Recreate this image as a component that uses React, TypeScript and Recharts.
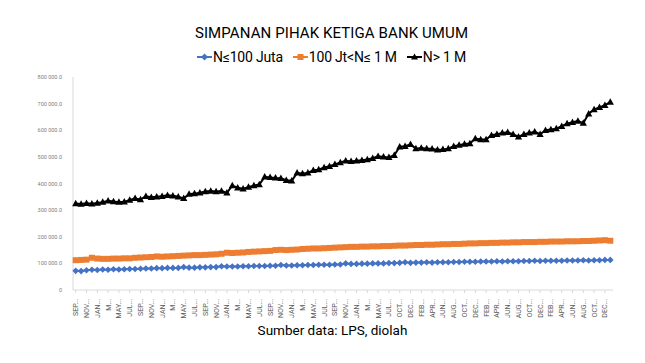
import { Line, LineChart, XAxis, YAxis } from "recharts";

// monthly categories (one month missing in the source, SEP-16)
const MONTHS = [
  "SEP-11", "OCT-11", "NOV-11", "DEC-11",
  "JAN-12", "FEB-12", "MAR-12", "APR-12", "MAY-12", "JUN-12", "JUL-12", "AUG-12", "SEP-12", "OCT-12", "NOV-12", "DEC-12",
  "JAN-13", "FEB-13", "MAR-13", "APR-13", "MAY-13", "JUN-13", "JUL-13", "AUG-13", "SEP-13", "OCT-13", "NOV-13", "DEC-13",
  "JAN-14", "FEB-14", "MAR-14", "APR-14", "MAY-14", "JUN-14", "JUL-14", "AUG-14", "SEP-14", "OCT-14", "NOV-14", "DEC-14",
  "JAN-15", "FEB-15", "MAR-15", "APR-15", "MAY-15", "JUN-15", "JUL-15", "AUG-15", "SEP-15", "OCT-15", "NOV-15", "DEC-15",
  "JAN-16", "FEB-16", "MAR-16", "APR-16", "MAY-16", "JUN-16", "JUL-16", "AUG-16", "OCT-16", "NOV-16", "DEC-16",
  "JAN-17", "FEB-17", "MAR-17", "APR-17", "MAY-17", "JUN-17", "JUL-17", "AUG-17", "SEP-17", "OCT-17", "NOV-17", "DEC-17",
  "JAN-18", "FEB-18", "MAR-18", "APR-18", "MAY-18", "JUN-18", "JUL-18", "AUG-18", "SEP-18", "OCT-18", "NOV-18", "DEC-18",
  "JAN-19", "FEB-19", "MAR-19", "APR-19", "MAY-19", "JUN-19", "JUL-19", "AUG-19", "SEP-19", "OCT-19", "NOV-19", "DEC-19",
  "JAN-20",
];

// values in thousands (axis shows "x 000.0")
const SMALL = [
  72, 71, 74, 76, 75, 77, 76, 78, 77, 78,
  79, 79, 80, 81, 81, 82, 82, 83, 83, 83,
  86, 84, 84, 85, 85, 86, 86, 89, 88, 88,
  88, 89, 89, 90, 90, 90, 91, 91, 94, 92,
  92, 93, 93, 94, 94, 95, 95, 95, 96, 96,
  100, 98, 98, 99, 99, 100, 100, 100, 101, 101,
  102, 104, 102, 103, 103, 104, 103, 104, 104, 104,
  105, 105, 106, 106, 106, 107, 107, 107, 108, 107,
  108, 108, 108, 109, 109, 110, 109, 110, 110, 110,
  110, 111, 111, 111, 112, 111, 112, 112, 113, 113,
];

const MID = [
  112, 113, 114, 121, 118, 117, 117, 118, 118, 119,
  119, 121, 122, 123, 124, 126, 125, 126, 127, 128,
  129, 130, 131, 131, 132, 133, 134, 136, 140, 139,
  140, 141, 143, 144, 145, 146, 147, 150, 151, 150,
  151, 152, 154, 155, 156, 156, 157, 158, 159, 160,
  161, 162, 162, 163, 163, 164, 164, 165, 165, 166,
  167, 167, 168, 169, 169, 170, 170, 171, 172, 172,
  173, 173, 174, 175, 175, 176, 176, 177, 177, 178,
  178, 179, 179, 180, 180, 180, 181, 181, 182, 182,
  182, 183, 183, 183, 184, 184, 185, 186, 187, 185,
];

const LARGE = [
  325, 323, 326, 324, 327, 330, 335, 332, 330, 331,
  338, 344, 340, 352, 348, 350, 352, 356, 354, 350,
  344, 360, 362, 365, 370, 372, 370, 372, 365, 392,
  384, 380, 387, 392, 396, 425, 423, 421, 420, 412,
  410, 440, 437, 440, 450, 452, 460, 465, 472, 479,
  485, 483, 485, 487, 490, 495, 502, 500, 498, 506,
  538, 540, 547, 531, 533, 531, 530, 527, 528, 531,
  540, 544, 548, 550, 569, 565, 565, 581, 585, 590,
  592, 585, 575, 585, 590, 594, 585, 600, 603, 606,
  615, 625, 630, 635, 627, 662, 678, 686, 694, 706,
];

const Y_TICKS = [0, 100, 200, 300, 400, 500, 600, 700, 800];

const SERIES = [
  { key: "small", name: "N≤100 Juta", color: "#4472C4" },
  { key: "mid", name: "100 Jt<N≤ 1 M", color: "#ED7D31" },
  { key: "large", name: "N> 1 M", color: "#000000" },
];

const data = MONTHS.map((m, i) => ({
  month: m,
  small: SMALL[i],
  mid: MID[i],
  large: LARGE[i],
}));

const FONT = "Roboto, 'Noto Sans', sans-serif";

function shortLabel(m: string) {
  const mon = m.slice(0, 3);
  return mon === "MAR" ? "M..." : mon + "...";
}

function MonthTick({ x, y, payload }: any) {
  return (
    <g transform={`translate(${x},${y})`}>
      <text
        transform="rotate(-90)"
        x={-4}
        y={0}
        dy={2.5}
        textAnchor="end"
        fontSize={7}
        fill="#595959"
        fontFamily={FONT}
      >
        {shortLabel(payload.value)}
      </text>
    </g>
  );
}

function ValueTick({ x, y, payload }: any) {
  const v = payload.value;
  return (
    <text x={x - 3} y={y} dy={2} textAnchor="end" fontSize={5.5} fill="#808080" fontFamily={FONT}>
      {v === 0 ? "0" : `${v}\u00a0000.0`}
    </text>
  );
}

function Diamond(props: any) {
  const { cx, cy, index } = props;
  if (cx == null || cy == null) return <g key={`s-${index}`} />;
  const r = 3.3;
  return (
    <path
      key={`s-${index}`}
      d={`M${cx},${cy - r}L${cx + r},${cy}L${cx},${cy + r}L${cx - r},${cy}Z`}
      fill="#4472C4"
    />
  );
}

function Square(props: any) {
  const { cx, cy, index } = props;
  if (cx == null || cy == null) return <g key={`m-${index}`} />;
  return <rect key={`m-${index}`} x={cx - 3} y={cy - 3} width={6} height={6} fill="#ED7D31" />;
}

function Triangle(props: any) {
  const { cx, cy, index } = props;
  if (cx == null || cy == null) return <g key={`l-${index}`} />;
  return (
    <path
      key={`l-${index}`}
      d={`M${cx},${cy - 3.8}L${cx + 3.6},${cy + 2.7}L${cx - 3.6},${cy + 2.7}Z`}
      fill="#000"
    />
  );
}

function LegendMarker({ k, color }: { k: string; color: string }) {
  return (
    <svg width={15} height={10} style={{ marginRight: 1 }}>
      <line x1={0} y1={5} x2={15} y2={5} stroke={color} strokeWidth={2} />
      {k === "small" && <path d="M7.5,1.5L11,5L7.5,8.5L4,5Z" fill={color} />}
      {k === "mid" && <rect x={4.5} y={2} width={6} height={6} fill={color} />}
      {k === "large" && <path d="M7.5,1.5L11,7.5L4,7.5Z" fill={color} />}
    </svg>
  );
}

export default function App() {
  return (
    <div
      style={{
        position: "absolute",
        left: 0,
        top: 0,
        width: 645,
        height: 363,
        background: "#fff",
        fontFamily: FONT,
      }}
    >
      <div
        style={{
          position: "absolute",
          top: 24,
          width: 645,
          textAlign: "center",
          fontSize: 15,
          color: "#000",
          letterSpacing: 0.1,
          paddingLeft: 18,
          boxSizing: "border-box",
        }}
      >
        SIMPANAN PIHAK KETIGA BANK UMUM
      </div>
      <div
        style={{
          position: "absolute",
          top: 49,
          width: 645,
          paddingLeft: 18,
          boxSizing: "border-box",
          display: "flex",
          justifyContent: "center",
          alignItems: "center",
          gap: 10,
          fontSize: 14,
          color: "#000",
          letterSpacing: -0.2,
        }}
      >
        {SERIES.map((s) => (
          <div key={s.key} style={{ display: "flex", alignItems: "center" }}>
            <LegendMarker k={s.key} color={s.color} />
            <span>{s.name}</span>
          </div>
        ))}
      </div>
      <LineChart
        width={645}
        height={363}
        data={data}
        margin={{ top: 77, right: 32, left: 33, bottom: 43 }}
      >
        <XAxis
          dataKey="month"
          interval={1}
          height={30}
          padding={{ left: 2.7, right: 2.7 }}
          tick={<MonthTick />}
          tickLine={{ stroke: "#d9d9d9" }}
          tickSize={3}
          axisLine={{ stroke: "#d9d9d9" }}
        />
        <YAxis
          width={40}
          domain={[0, 800]}
          ticks={Y_TICKS}
          interval={0}
          tickLine={false}
          axisLine={{ stroke: "#d9d9d9" }}
          tick={<ValueTick />}
        />
        <Line
          dataKey="small"
          name="N≤100 Juta"
          stroke="#4472C4"
          strokeWidth={2}
          dot={Diamond}
          activeDot={false}
          isAnimationActive={false}
        />
        <Line
          dataKey="mid"
          name="100 Jt<N≤ 1 M"
          stroke="#ED7D31"
          strokeWidth={2.5}
          dot={Square}
          activeDot={false}
          isAnimationActive={false}
        />
        <Line
          dataKey="large"
          name="N> 1 M"
          stroke="#000"
          strokeWidth={2}
          dot={Triangle}
          activeDot={false}
          isAnimationActive={false}
        />
      </LineChart>
      <div
        style={{
          position: "absolute",
          top: 322,
          width: 645,
          paddingLeft: 20,
          boxSizing: "border-box",
          textAlign: "center",
          fontSize: 13.5,
          color: "#000",
        }}
      >
        Sumber data: LPS, diolah
      </div>
    </div>
  );
}
